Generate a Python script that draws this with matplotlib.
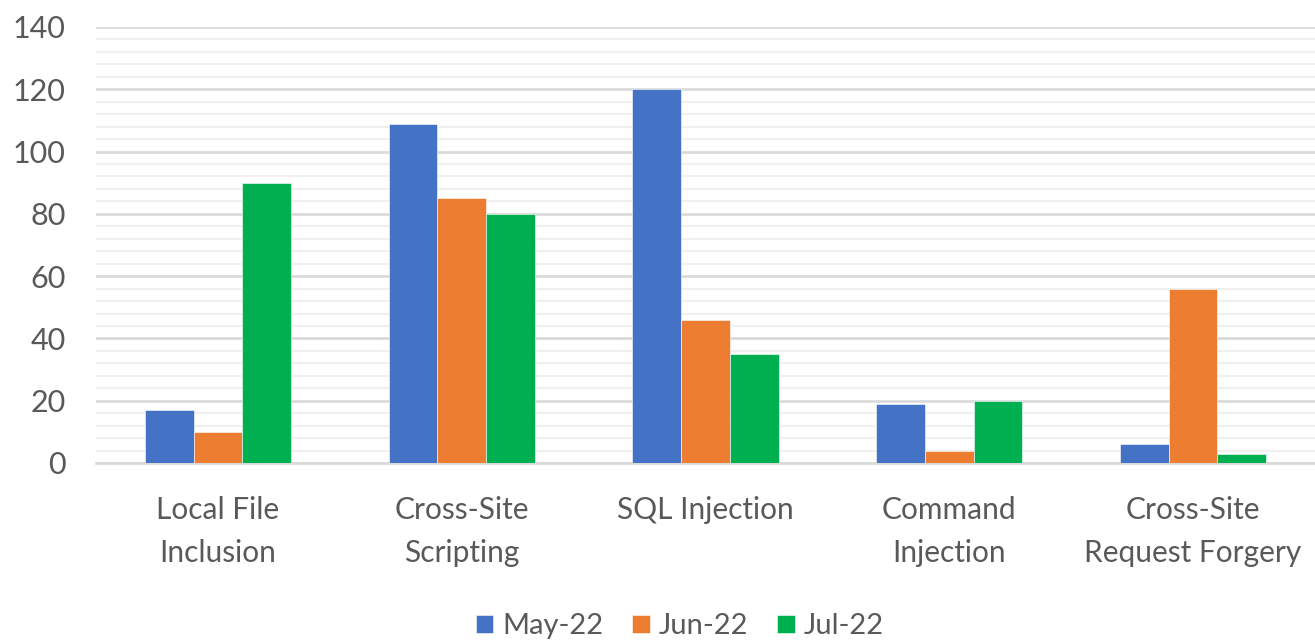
import matplotlib.pyplot as plt
from matplotlib.ticker import MultipleLocator
import numpy as np

categories = ['Local File\nInclusion', 'Cross-Site\nScripting', 'SQL Injection',
              'Command\nInjection', 'Cross-Site\nRequest Forgery']
months = ['May-22', 'Jun-22', 'Jul-22']
may = [17, 109, 120, 19, 6]
jun = [10, 85, 46, 4, 56]
jul = [90, 80, 35, 20, 3]
colors = ['#4472C4', '#ED7D31', '#00B050']

plt.rcParams['font.family'] = ['Lato', 'DejaVu Sans']
text_col = '#595959'

fig = plt.figure(figsize=(13.15, 6.43), dpi=100)
ax = fig.add_axes([96 / 1315, 1 - 463 / 643, 1 - 96 / 1315, (463 - 27) / 643])

x = np.arange(len(categories))
w = 0.2
for i, (vals, lab) in enumerate(zip([may, jun, jul], months)):
    ax.bar(x + (i - 1) * w, vals, w, color=colors[i], label=lab,
           edgecolor='white', linewidth=0.4, zorder=3)

ax.set_xlim(-0.5, len(categories) - 0.5)
ax.set_ylim(0, 140)
ax.yaxis.set_major_locator(MultipleLocator(20))
ax.yaxis.set_minor_locator(MultipleLocator(4))
ax.grid(axis='y', which='major', color='#d9d9d9', lw=1.9, zorder=0)
ax.grid(axis='y', which='minor', color='#f0f0f0', lw=1.6, zorder=0)
ax.set_axisbelow(True)

for s in ['top', 'right', 'left']:
    ax.spines[s].set_visible(False)
ax.spines['bottom'].set_color('#d9d9d9')
ax.spines['bottom'].set_linewidth(1.9)

ax.set_xticks(x)
ax.set_xticklabels(categories, linespacing=1.62)
ax.tick_params(axis='x', length=0, pad=24, labelsize=21.5, labelcolor=text_col)
ax.tick_params(axis='y', which='both', length=0, pad=22, labelsize=22,
               labelcolor=text_col)

leg = fig.legend(loc='lower center', ncol=3, frameon=False, fontsize=21,
                 bbox_to_anchor=(0.517, -0.035), handlelength=0.6,
                 handleheight=0.6, handletextpad=0.3, columnspacing=1.0)
for t in leg.get_texts():
    t.set_color(text_col)

fig.savefig('out.png', dpi=100)
